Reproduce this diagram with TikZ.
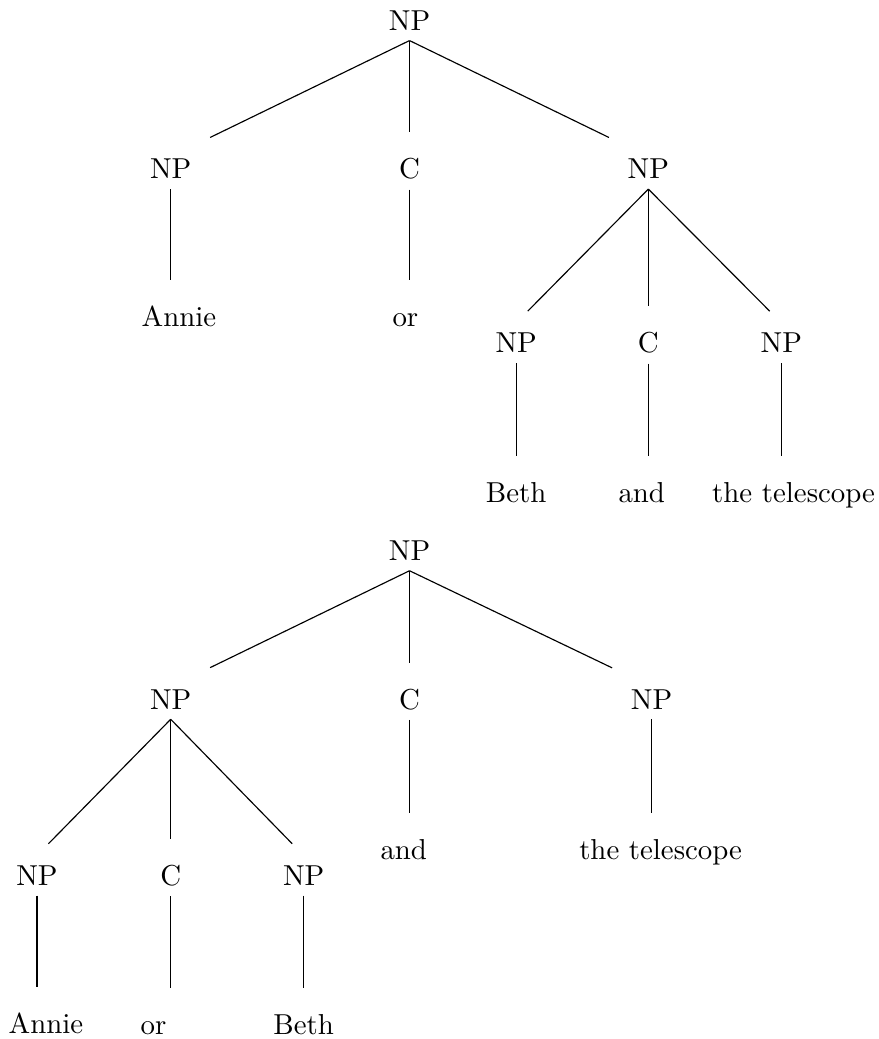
\documentclass[tikz,border=0pt]{standalone}
\usepackage{tikz}
\tikzset{
  treenode/.style={anchor=base, text height=1.6ex},
  stem/.style={shorten >=5.7pt},
  limb/.style={shorten >=15.2pt}
}

\begin{document}
\begin{tikzpicture}
\useasboundingbox (0,0) rectangle (10.70,-12.66);
\node[treenode] (t0) at (4.99,-0.37) {NP};
\node[treenode] (t1) at (2.08,-2.18) {NP};
\node[treenode] (t2) at (4.99,-2.18) {C};
\node[treenode] (t3) at (7.90,-2.18) {NP};
\node[treenode] (t4) at (2.18,-3.98) {Annie};
\node[treenode] (t5) at (4.94,-3.98) {or};
\node[treenode] (t6) at (6.29,-4.30) {NP};
\node[treenode] (t7) at (7.90,-4.30) {C};
\node[treenode] (t8) at (9.52,-4.30) {NP};
\node[treenode] (t9) at (6.29,-6.12) {Beth};
\node[treenode] (t10) at (7.82,-6.12) {and};
\node[treenode] (t11) at (9.67,-6.12) {the telescope};
\draw[limb] (t0.south) -- ([yshift=-2.7pt]t1.north);
\draw[stem] (t0.south) -- (t2.north);
\draw[limb] (t0.south) -- ([yshift=-2.7pt]t3.north);
\draw[stem] (t1.south) -- (t1.south |- t4.north);
\draw[stem] (t2.south) -- (t2.south |- t5.north);
\draw[stem] (t3.south) -- (t6.north);
\draw[stem] (t3.south) -- (t7.north);
\draw[stem] (t3.south) -- (t8.north);
\draw[stem] (t6.south) -- (t6.south |- t9.north);
\draw[stem] (t7.south) -- (t7.south |- t10.north);
\draw[stem] (t8.south) -- (t8.south |- t11.north);

\node[treenode] (b0) at (4.99,-6.83) {NP};
\node[treenode] (b1) at (2.08,-8.64) {NP};
\node[treenode] (b2) at (4.99,-8.64) {C};
\node[treenode] (b3) at (7.94,-8.64) {NP};
\node[treenode] (b4) at (0.45,-10.79) {NP};
\node[treenode] (b5) at (2.08,-10.79) {C};
\node[treenode] (b6) at (3.70,-10.79) {NP};
\node[treenode] (b7) at (4.92,-10.47) {and};
\node[treenode] (b8) at (8.05,-10.47) {the telescope};
\node[treenode] (b9) at (0.56,-12.59) {Annie};
\node[treenode] (b10) at (1.87,-12.60) {or};
\node[treenode] (b11) at (3.70,-12.60) {Beth};
\draw[limb] (b0.south) -- ([yshift=-2.7pt]b1.north);
\draw[stem] (b0.south) -- (b2.north);
\draw[limb] (b0.south) -- ([yshift=-2.7pt]b3.north);
\draw[stem] (b1.south) -- (b4.north);
\draw[stem] (b1.south) -- (b5.north);
\draw[stem] (b1.south) -- (b6.north);
\draw[stem] (b2.south) -- (b2.south |- b7.north);
\draw[stem] (b3.south) -- (b3.south |- b8.north);
\draw[stem] (b4.south) -- (b4.south |- b9.north);
\draw[stem] (b5.south) -- (b5.south |- b10.north);
\draw[stem] (b6.south) -- (b6.south |- b11.north);

\end{tikzpicture}
\end{document}
